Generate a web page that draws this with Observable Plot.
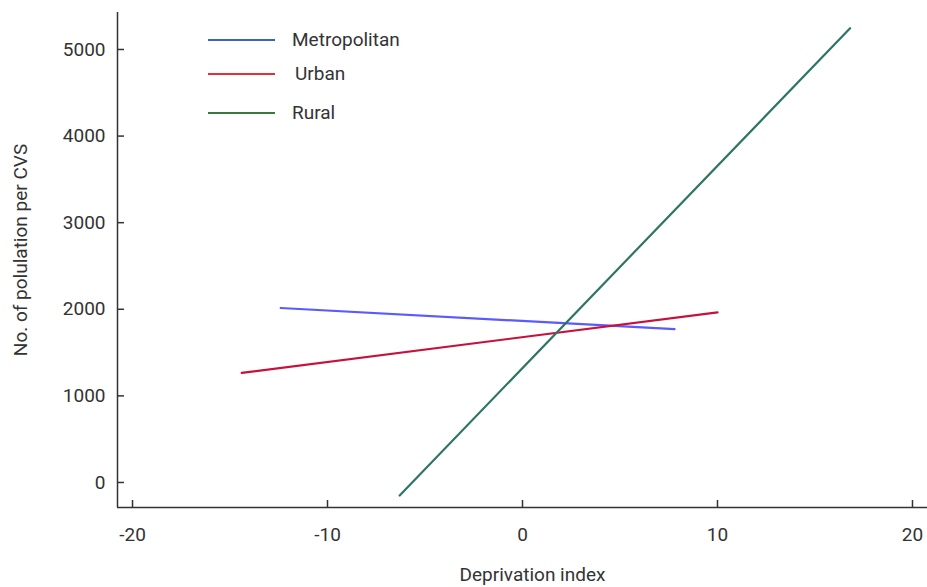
<!DOCTYPE html>
<html>
<head>
<meta charset="utf-8">
<script src="https://cdn.jsdelivr.net/npm/d3@7"></script>
<script src="https://cdn.jsdelivr.net/npm/@observablehq/plot@0.6"></script>
<style>
  body { margin: 0; background: #fff; }
  #wrap { position: relative; width: 927px; height: 587px; font-family: "Roboto", sans-serif; }
  #legend { position: absolute; left: 208px; top: 28px; font-size: 19px; color: #333; }
  .row { position: absolute; left: 0; white-space: nowrap; display: flex; align-items: center; }
  .sw { width: 67px; height: 0; border-top: 2px solid; margin-right: 17px; }
</style>
</head>
<body>
<div id="wrap"></div>
<script>
const series = ["Metropolitan", "Urban", "Rural"];
const lineColors = ["#5a5aff", "#c8103c", "#2e7566"];
const legendColors = ["#3a66b8", "#e0303a", "#3a7a3a"];
const metroX = [-12.4, 7.8];
const metroY = [2015, 1770];
const urbanX = [-14.4, 10.0];
const urbanY = [1265, 1965];
const ruralX = [-6.3, 16.8];
const ruralY = [-150, 5245];
const xTicks = [-20, -10, 0, 10, 20];
const yTicks = [0, 1000, 2000, 3000, 4000, 5000];
const xLabel = "Deprivation index";
const yLabel = "No. of polulation per CVS";

const data = [];
[[metroX, metroY], [urbanX, urbanY], [ruralX, ruralY]].forEach(([xs, ys], i) => {
  xs.forEach((x, j) => data.push({series: series[i], x, y: ys[j]}));
});

const xDomain = [-20.77, 20.77];
const yDomain = [-289, 5427];
const font = '"Roboto", sans-serif';
const fmt = d => String(d);

const chart = Plot.plot({
  width: 927, height: 587,
  marginLeft: 117, marginRight: 0, marginTop: 12, marginBottom: 80,
  style: {fontFamily: font, fontSize: "19px", color: "#333", background: "#fff"},
  x: {domain: xDomain},
  y: {domain: yDomain},
  color: {domain: series, range: lineColors},
  marks: [
    Plot.ruleX([xDomain[0]], {stroke: "#333", strokeWidth: 1.5}),
    Plot.ruleY([yDomain[0]], {stroke: "#333", strokeWidth: 1.5}),
    Plot.tickX(xTicks, {x: d => d, insetTop: 488, stroke: "#333", strokeWidth: 1.5}),
    Plot.tickY(yTicks, {y: d => d, insetRight: 803, stroke: "#333", strokeWidth: 1.5}),
    Plot.axisX(xTicks, {tickSize: 0, tickPadding: 20, label: null, tickFormat: fmt, fill: "#333", fontSize: 19}),
    Plot.axisY(yTicks, {tickSize: 0, tickPadding: 12, label: null, tickFormat: fmt, fill: "#333", fontSize: 19}),
    Plot.line(data, {x: "x", y: "y", z: "series", stroke: "series", strokeWidth: 2.2}),
    Plot.text([xLabel], {frameAnchor: "bottom", dx: 10, dy: 67, lineAnchor: "middle", fontSize: 19, fill: "#333"}),
    Plot.text([yLabel], {frameAnchor: "left", dx: -97, dy: -10, rotate: -90, textAnchor: "middle", lineAnchor: "middle", fontSize: 19, fill: "#333"})
  ]
});

const wrap = document.getElementById("wrap");
wrap.appendChild(chart);
const legend = document.createElement("div");
legend.id = "legend";
const tops = [0, 34, 73];
series.forEach((s, i) => {
  const row = document.createElement("div");
  row.className = "row";
  row.style.top = tops[i] + "px";
  const sw = document.createElement("span");
  sw.className = "sw";
  sw.style.borderTopColor = legendColors[i];
  const t = document.createElement("span");
  t.textContent = s;
  if (i === 1) t.style.marginLeft = "3px";
  row.appendChild(sw); row.appendChild(t);
  legend.appendChild(row);
});
wrap.appendChild(legend);
</script>
</body>
</html>
